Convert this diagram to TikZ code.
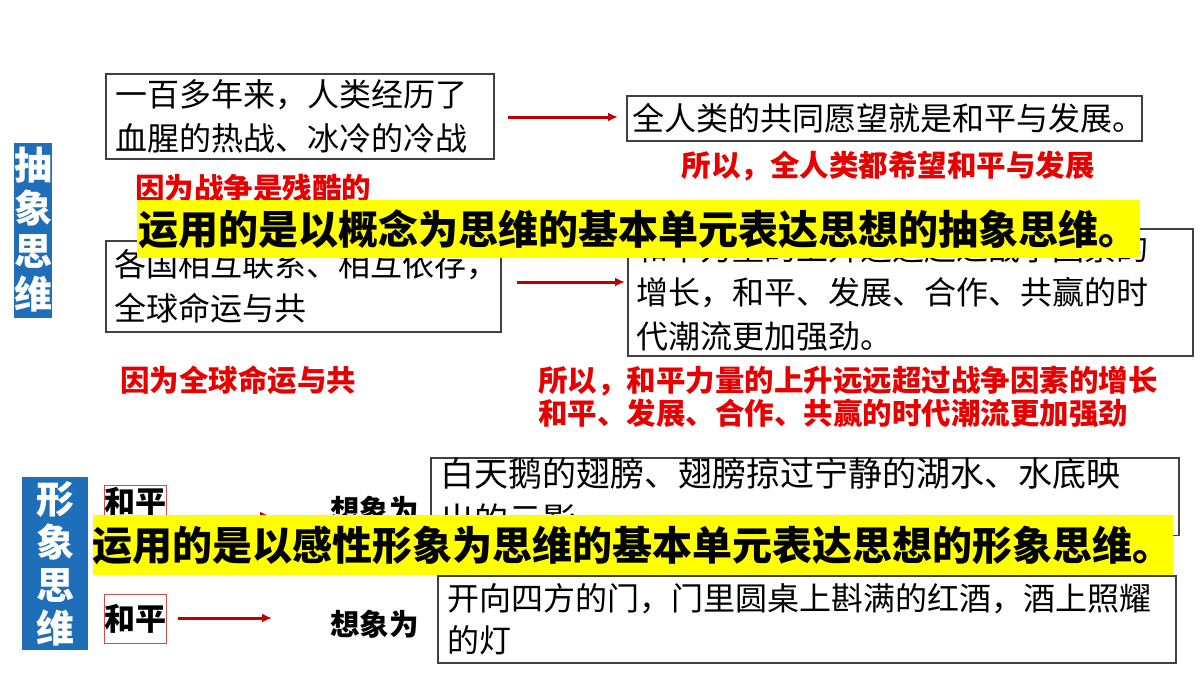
\documentclass[tikz,border=0pt]{standalone}
\usepackage{fontspec}
\newfontfamily\cjk{Noto Sans CJK SC}
\newcommand{\cjkb}{\cjk\bfseries}
\usetikzlibrary{arrows.meta}
\definecolor{barblue}{RGB}{31,110,185}
\definecolor{darkred}{RGB}{190,0,0}
\definecolor{txtred}{RGB}{230,0,0}
\definecolor{hiyellow}{RGB}{255,255,0}

\tikzset{
  bar/.style={fill=barblue,text=white,font=\cjkb\fontsize{38}{43}\selectfont,align=center,inner sep=0pt},
  tbox/.style={draw=black!75,line width=1.5pt,anchor=north west,align=left,inner sep=0pt,text=black,font=\cjk\fontsize{32}{44}\selectfont},
  redbox/.style={draw=darkred!70,line width=1.2pt,font=\cjkb\fontsize{31}{34}\selectfont,inner sep=0pt},
  redtxt/.style={text=txtred,font=\cjkb\fontsize{29.5}{33}\selectfont,anchor=west,align=left,inner sep=0pt},
  banner/.style={fill=hiyellow,font=\cjkb\fontsize{40}{44}\selectfont,inner sep=0pt},
  arr/.style={-{Latex[length=10pt,width=9pt]},draw=darkred,line width=3pt},
}

\begin{document}
\begin{tikzpicture}[x=1pt,y=-1pt]
  \useasboundingbox (0,0) rectangle (1200,675);
  % abstract thinking
  \node[bar,minimum width=38pt,minimum height=175pt] (ab) at (33,230) {抽\\象\\思\\维};
  \node[tbox,minimum width=388pt,minimum height=85pt,text width=380pt] (war) at (105,73) {\hspace*{6pt}一百多年来，人类经历了\\\hspace*{6pt}血腥的热战、冰冷的冷战};
  \node[tbox,minimum width=515pt,minimum height=45pt,text width=515pt] (wish) at (626,95) {\hspace*{6pt}全人类的共同愿望就是和平与发展。};
  \node[redtxt,anchor=center] (so1) at (888,166) {所以，全人类都希望和平与发展};
  \node[redtxt] (cruel) at (135,188) {因为战争是残酷的};
  \node[tbox,minimum width=395pt,minimum height=91pt,text width=390pt] (link) at (105,240) {\hspace*{6pt}各国相互联系、相互依存，\\\hspace*{6pt}全球命运与共};
  \node[tbox,minimum width=565pt,minimum height=127pt,text width=560pt] (peace) at (627,228) {\hspace*{6pt}和平力量的上升远远超过战争因素的\\\hspace*{6pt}增长，和平、发展、合作、共赢的时\\\hspace*{6pt}代潮流更加强劲。};
  \node[redtxt] (common) at (120,380) {因为全球命运与共};
  \node[redtxt] (so2) at (538,397) {所以，和平力量的上升远远超过战争因素的增长\\和平、发展、合作、共赢的时代潮流更加强劲};
  \draw[arr] (508,117) -- (618,117);
  \draw[arr] (517,282) -- (625,282);
  \node[banner,minimum width=1003pt,minimum height=58pt] (sum1) at (638.5,229) {运用的是以概念为思维的基本单元表达思想的抽象思维。};
  % image thinking
  \node[bar,minimum width=66pt,minimum height=173pt] (im) at (55,563.5) {形\\象\\思\\维};
  \node[redbox,minimum width=60pt,minimum height=32pt,anchor=north west] (p1) at (104,485) {和平};
  \node[redbox,minimum width=60pt,minimum height=49pt,anchor=north west] (p2) at (104,594) {和平};
  \node[redtxt,text=black] (i1) at (330,510) {想象为};
  \node[redtxt,text=black] (i2) at (330,624) {想象为};
  \draw[arr] (176,516) -- (270,516);
  \draw[arr] (178,618) -- (272,618);
  \node[tbox,minimum width=748pt,minimum height=61pt,text width=745pt,font=\cjk\fontsize{34}{46}\selectfont] (swan) at (430,457) {\hspace*{8pt}白天鹅的翅膀、翅膀掠过宁静的湖水、水底映\\\hspace*{8pt}出的云影};
  \node[tbox,minimum width=738pt,minimum height=87pt,text width=735pt,font=\cjk\fontsize{32}{42}\selectfont] (door) at (437,575) {\hspace*{8pt}开向四方的门，门里圆桌上斟满的红酒，酒上照耀\\\hspace*{8pt}的灯};
  \node[banner,minimum width=1065pt,minimum height=60pt] (sum2) at (632.5,545) {运用的是以感性形象为思维的基本单元表达思想的形象思维。};
\end{tikzpicture}
\end{document}
